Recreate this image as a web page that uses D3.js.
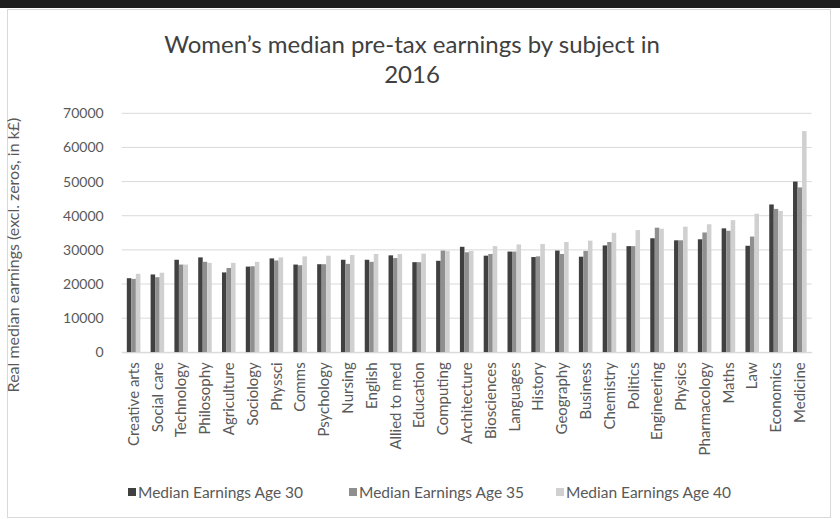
<!DOCTYPE html>
<html><head><meta charset="utf-8">
<script src="https://cdn.jsdelivr.net/npm/d3@7"></script>
<style>body{margin:0;background:#fff} svg{display:block}</style>
</head><body>
<svg id="c" width="840" height="519"></svg>
<script>
const categories = ["Creative arts","Social care","Technology","Philosophy","Agriculture","Sociology","Physsci","Comms","Psychology","Nursing","English","Allied to med","Education","Computing","Architecture","Biosciences","Languages","History","Geography","Business","Chemistry","Politics","Engineering","Physics","Pharmacology","Maths","Law","Economics","Medicine"];
const seriesNames = ["Median Earnings Age 30","Median Earnings Age 35","Median Earnings Age 40"];
const age30 = [21700,22800,27100,27800,23400,25100,27500,25700,25800,27100,27100,28400,26400,26800,30900,28300,29500,27900,29800,28000,31300,31100,33400,32800,33100,36300,31200,43300,50000];
const age35 = [21500,22000,25700,26500,24700,25200,26900,25500,25800,25900,26500,27600,26400,29800,29300,28800,29500,28100,28800,29700,32300,31100,36500,32800,35100,35600,33900,42000,48300];
const age40 = [23000,23300,25700,26200,26200,26500,27800,28100,28300,28500,28800,28800,28900,29700,29700,31100,31600,31700,32300,32700,35000,35800,36200,36800,37500,38700,40600,41400,64800];
const yTicks = [0,10000,20000,30000,40000,50000,60000,70000];
const titleLines = ["Women\u2019s median pre-tax earnings by subject in","2016"];
const yTitle = "Real median earnings (excl. zeros, in k\u00a3)";

const series = [age30, age35, age40];
const colors = ["#404040","#8f8f8f","#d0d0d0"];
const FONT = "Lato, 'Open Sans', sans-serif";

const svg = d3.select("#c");
svg.append("rect").attr("x",0).attr("y",0).attr("width",840).attr("height",519).attr("fill","#ffffff");
svg.append("rect").attr("x",0).attr("y",0).attr("width",840).attr("height",8).attr("fill","#1e1e1e");
svg.append("rect").attr("x",7.5).attr("y",9.5).attr("width",823).attr("height",508)
  .attr("fill","#ffffff").attr("stroke","#d9d9d9").attr("stroke-width",1);

const L = 121.7, R = 811.7, T = 113.3, B = 352.3;
const x0 = d3.scaleBand().domain(categories).range([L,R]).paddingInner(0.43).paddingOuter(0.215);
const x1 = d3.scaleBand().domain(d3.range(series.length)).range([0, x0.bandwidth()]);
const y = d3.scaleLinear().domain([0,70000]).range([B,T]);

// gridlines
svg.append("g").selectAll("line").data(yTicks).join("line")
  .attr("x1",L).attr("x2",R).attr("y1",d=>y(d)).attr("y2",d=>y(d))
  .attr("stroke","#d9d9d9").attr("stroke-width",1);

// bars
const g = svg.append("g");
categories.forEach((c,i)=>{
  series.forEach((s,k)=>{
    g.append("rect")
      .attr("x", x0(c)+x1(k))
      .attr("y", y(s[i]))
      .attr("width", x1.bandwidth())
      .attr("height", y(0)-y(s[i]))
      .attr("fill", colors[k]);
  });
});

// y axis
const ya = svg.append("g").attr("transform",`translate(${L},0)`)
  .call(d3.axisLeft(y).tickValues(yTicks).tickSize(0).tickPadding(18).tickFormat(d3.format("d")));
ya.select(".domain").remove();
ya.selectAll("text").attr("font-family",FONT).attr("font-size",14).attr("fill","#595959");

// x axis
const xa = svg.append("g").attr("transform",`translate(0,${B})`)
  .call(d3.axisBottom(x0).tickSize(0));
xa.select(".domain").attr("stroke","#d9d9d9");
xa.selectAll("text")
  .attr("font-family",FONT).attr("font-size",15).attr("fill","#595959")
  .attr("transform","rotate(-90)").attr("x",-10).attr("y",0).attr("dy","0.35em")
  .style("text-anchor","end");

// title
svg.append("text").attr("text-anchor","middle").attr("font-family",FONT).attr("font-size",24)
  .attr("fill","#404040")
  .selectAll("tspan").data(titleLines).join("tspan")
  .attr("x",412).attr("y",(d,i)=>53+i*30).text(d=>d);

// y title
svg.append("text").attr("transform","translate(19,255) rotate(-90)")
  .attr("text-anchor","middle").attr("font-family",FONT).attr("font-size",16)
  .attr("fill","#595959").text(yTitle);

// legend
const legX = [128, 349, 556];
const leg = svg.append("g");
seriesNames.forEach((n,k)=>{
  leg.append("rect").attr("x",legX[k]).attr("y",488).attr("width",8).attr("height",8).attr("fill",colors[k]);
  leg.append("text").attr("x",legX[k]+10).attr("y",497.5).attr("font-family",FONT).attr("font-size",15.5)
    .attr("fill","#595959").text(n);
});
</script>
</body></html>
